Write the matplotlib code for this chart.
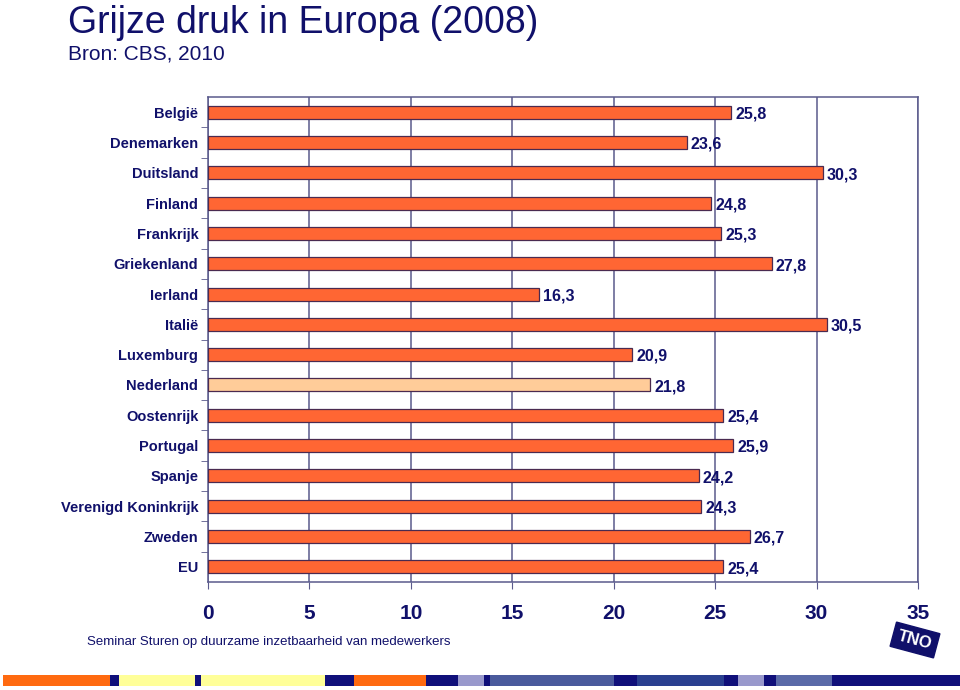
import matplotlib.pyplot as plt
from matplotlib.patches import Rectangle

landen = ["België", "Denemarken", "Duitsland", "Finland", "Frankrijk", "Griekenland",
          "Ierland", "Italië", "Luxemburg", "Nederland", "Oostenrijk", "Portugal",
          "Spanje", "Verenigd Koninkrijk", "Zweden", "EU"]
waarden = [25.8, 23.6, 30.3, 24.8, 25.3, 27.8, 16.3, 30.5, 20.9, 21.8, 25.4, 25.9,
           24.2, 24.3, 26.7, 25.4]
x_ticks = [0, 5, 10, 15, 20, 25, 30, 35]

navy = "#10106a"
grid = "#5a5a8c"
oranje = "#ff6633"
licht = "#ffcc99"

# decoratieve balk onderaan (begin, eind, kleur) in pixels
strip = [(3, 110, "#ff6a10"), (110, 119, "#10107a"), (119, 195, "#ffff99"),
         (195, 201, "#10107a"), (201, 325, "#ffff99"), (325, 354, "#10107a"),
         (354, 426, "#ff6a10"), (426, 458, "#10107a"), (458, 484, "#9999cc"),
         (484, 490, "#10107a"), (490, 614, "#4a5a9c"), (614, 637, "#10107a"),
         (637, 724, "#2a4090"), (724, 738, "#10107a"), (738, 764, "#9999cc"),
         (764, 776, "#10107a"), (776, 832, "#5a6aa8"), (832, 960, "#10107a")]


def main():
    fig = plt.figure(figsize=(9.6, 6.9), dpi=100)
    ax = fig.add_axes([208 / 960, 1 - 582 / 690, 710 / 960, 485 / 690])

    kleuren = [licht if l == "Nederland" else oranje for l in landen]
    pos = list(range(len(landen)))
    ax.barh(pos, waarden, height=0.43, color=kleuren, edgecolor="#4a2a50",
            linewidth=0.9, zorder=3)
    for p, v in zip(pos, waarden):
        ax.text(v + 0.2, p + 0.06, ("%.1f" % v).replace(".", ","), va="center",
                ha="left", fontsize=11.5, fontweight="bold", color=navy,
                family="Liberation Sans", zorder=4)

    ax.set_xlim(0, 35)
    ax.set_ylim(15.5, -0.5)
    ax.set_xticks(x_ticks)
    ax.set_xticklabels([str(t) for t in x_ticks], fontsize=15, fontweight="bold",
                       color=navy, family="Liberation Sans")
    ax.tick_params(axis="x", length=5, color=grid, pad=11)
    ax.set_yticks(pos)
    ax.set_yticklabels(landen, fontsize=10.5, color=navy, family="Liberation Sans",
                       fontweight="bold")
    ax.set_yticks([p + 0.5 for p in pos[:-1]], minor=True)
    ax.tick_params(axis="y", which="major", length=0, pad=7)
    ax.tick_params(axis="y", which="minor", length=5, color=grid)
    ax.grid(axis="x", color=grid, linewidth=1.1, zorder=0)
    for s in ax.spines.values():
        s.set_color(grid)
        s.set_linewidth(1.1)

    fig.text(68 / 960, 1 - 23 / 690, "Grijze druk in Europa (2008)", fontsize=27,
             color=navy, family="Liberation Sans", va="center")
    fig.text(68 / 960, 1 - 54 / 690, "Bron: CBS, 2010", fontsize=15,
             color=navy, family="Liberation Sans", va="center")
    fig.text(87 / 960, 1 - 642 / 690,
             "Seminar Sturen op duurzame inzetbaarheid van medewerkers",
             fontsize=9.5, color=navy, family="Liberation Sans", va="center")

    for a, b, c in strip:
        fig.patches.append(Rectangle((a / 960, 4 / 690), (b - a) / 960, 11 / 690,
                                     transform=fig.transFigure, color=c,
                                     linewidth=0))

    fig.text(915 / 960, 1 - 640 / 690, "TNO", fontsize=12, fontweight="bold",
             color="white", ha="center", va="center", rotation=-15,
             family="Liberation Sans",
             bbox=dict(boxstyle="square,pad=0.3", fc=navy, ec=navy))

    fig.savefig("out.png", dpi=100)


if __name__ == "__main__":
    main()
